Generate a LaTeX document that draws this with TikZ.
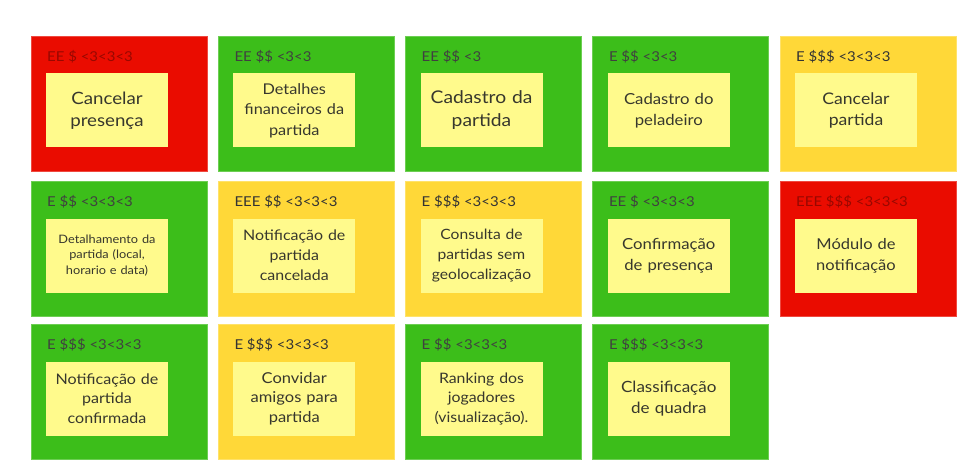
\documentclass[tikz,border=0pt]{standalone}
\usepackage{fontspec}
\setmainfont[FakeStretch=1.1]{Lato}
\definecolor{tRed}{RGB}{234,12,0}
\definecolor{tGreen}{RGB}{60,190,26}
\definecolor{tYellow}{RGB}{255,216,56}
\definecolor{noteY}{RGB}{255,250,140}
\definecolor{inkC}{RGB}{55,55,45}
\newcommand\mytile[9]{%
  \node[tile=#4] (t#1) at (#2,#3) {};
  \node[head, text=#5] (h#1) at ([xshift=16pt,yshift=-21pt]t#1.north west) {#6};
  \node[note, font=\fontsize{#7}{#8}\selectfont] (n#1) at ([xshift=76pt,yshift=-74.5pt]t#1.north west) {#9};
}
\begin{document}
\begin{tikzpicture}[x=1pt,y=-1pt,
  tile/.style={anchor=north west, minimum width=176pt, minimum height=135pt,
    inner sep=0pt, outer sep=0pt, fill=#1, draw=#1!75!white, line width=0.8pt},
  head/.style={anchor=west, inner sep=0pt, font=\fontsize{13.6}{15}\selectfont},
  note/.style={fill=noteY, minimum width=122pt, minimum height=74pt,
    text width=121pt, align=center, inner sep=0pt, text=inkC}]
\fill[white] (0,0) rectangle (972,476);
\useasboundingbox (0,0) rectangle (972,476);
% row 1
\mytile{a}{31}{36}{tRed}{tRed!65!black}{EE \$ <3<3<3}{17}{22}{Cancelar\\presença}
\mytile{b}{218.3}{36}{tGreen}{black!75}{EE \$\$ <3<3}{14.8}{20.5}{Detalhes\\financeiros da\\partida}
\mytile{c}{405.5}{36}{tGreen}{black!75}{EE \$\$ <3}{17.5}{23}{Cadastro da\\partida}
\mytile{d}{592.8}{36}{tGreen}{black!75}{E \$\$ <3<3}{15.2}{21}{Cadastro do\\peladeiro}
\mytile{e}{780}{36}{tYellow}{black!80}{E \$\$\$ <3<3<3}{16}{21}{Cancelar\\partida}
% row 2
\mytile{f}{31}{181}{tGreen}{black!75}{E \$\$ <3<3<3}{11.6}{15.5}{Detalhamento da\\partida (local,\\horario e data)}
\mytile{g}{218.3}{181}{tYellow}{black!80}{EEE \$\$ <3<3<3}{14.5}{20}{Notificação de\\partida\\cancelada}
\mytile{h}{405.5}{181}{tYellow}{black!80}{E \$\$\$ <3<3<3}{14.2}{20}{Consulta de\\partidas sem\\geolocalização}
\mytile{i}{592.8}{181}{tGreen}{black!75}{EE \$ <3<3<3}{15.2}{21}{Confirmação\\de presença}
\mytile{j}{780}{181}{tRed}{tRed!65!black}{EEE \$\$\$ <3<3<3}{15}{21}{Módulo de\\notificação}
% row 3
\mytile{k}{31}{324}{tGreen}{black!75}{E \$\$\$ <3<3<3}{14.6}{19.5}{Notificação de\\partida\\confirmada}
\mytile{l}{218.3}{324}{tYellow}{black!80}{E \$\$\$ <3<3<3}{15}{19.5}{Convidar\\amigos para\\partida}
\mytile{m}{405.5}{324}{tGreen}{black!75}{E \$\$ <3<3<3}{14.4}{19.5}{Ranking dos\\jogadores\\(visualização).}
\mytile{n}{592.8}{324}{tGreen}{black!75}{E \$\$\$ <3<3<3}{15.5}{21}{Classificação\\de quadra}
\end{tikzpicture}
\end{document}
